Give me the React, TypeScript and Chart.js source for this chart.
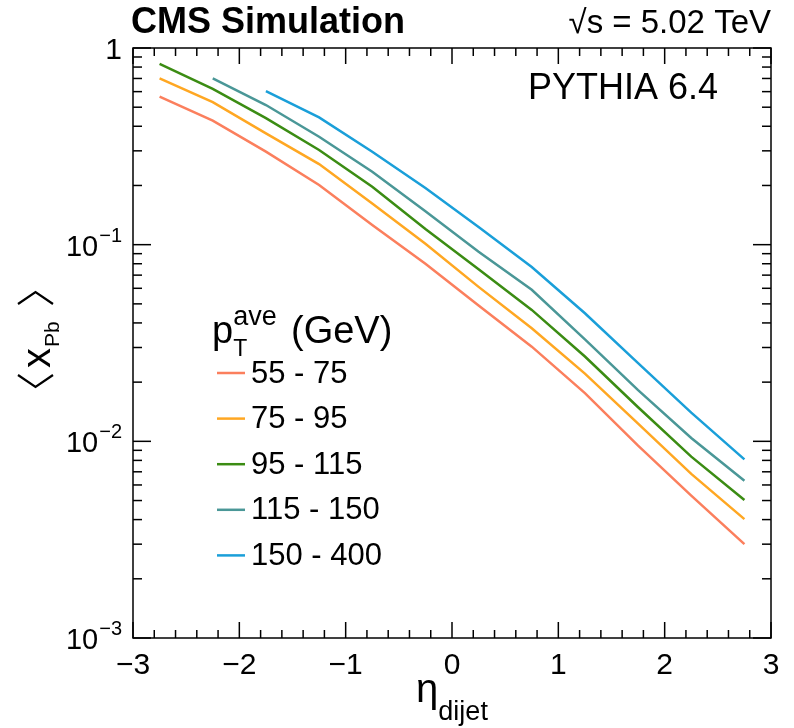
import React, { useEffect, useRef } from "react";
import { Chart, registerables } from "chart.js";

Chart.register(...registerables);

// ---------------- data ----------------
const etaCenters = [-2.75, -2.25, -1.75, -1.25, -0.75, -0.25, 0.25, 0.75, 1.25, 1.75, 2.25, 2.75];
const seriesLabels = ["55 - 75", "75 - 95", "95 - 115", "115 - 150", "150 - 400"];
const xPb_55_75 = [0.566, 0.427, 0.297, 0.201, 0.126, 0.08, 0.049, 0.0303, 0.0176, 0.0095, 0.0053, 0.003];
const xPb_75_95 = [0.7, 0.531, 0.368, 0.257, 0.162, 0.101, 0.061, 0.0376, 0.0221, 0.0123, 0.00683, 0.00402];
const xPb_95_115 = [0.83, 0.619, 0.44, 0.303, 0.197, 0.12, 0.075, 0.0466, 0.027, 0.0149, 0.00836, 0.00503];
const xPb_115_150 = [null, 0.7, 0.513, 0.354, 0.235, 0.148, 0.092, 0.059, 0.033, 0.0182, 0.0104, 0.0063];
const xPb_150_400 = [null, null, 0.604, 0.444, 0.297, 0.194, 0.123, 0.077, 0.0448, 0.025, 0.014, 0.0081];
const xTickValues = [-3, -2, -1, 0, 1, 2, 3];
const yDecades = [-3, -2, -1, 0];

const seriesValues = [xPb_55_75, xPb_75_95, xPb_95_115, xPb_115_150, xPb_150_400];
const seriesColors = ["#fb7f5d", "#ffa722", "#3b8c13", "#4a9797", "#1a9fd9"];

const FONT = "'Liberation Sans', Arial, Helvetica, sans-serif";

function minusStr(n: number) {
  return n < 0 ? "\u2212" + Math.abs(n) : String(n);
}

const overlay = {
  id: "rootOverlay",
  afterDraw(chart: any) {
    const ctx: CanvasRenderingContext2D = chart.ctx;
    const { left, right, top, bottom } = chart.chartArea;
    const xs = chart.scales.x;
    const ys = chart.scales.y;
    ctx.save();
    ctx.strokeStyle = "#000";
    ctx.fillStyle = "#000";
    ctx.lineWidth = 1.5;
    const seg = (x1: number, y1: number, x2: number, y2: number) => {
      ctx.beginPath();
      ctx.moveTo(x1, y1);
      ctx.lineTo(x2, y2);
      ctx.stroke();
    };
    // frame
    ctx.strokeRect(left, top, right - left, bottom - top);
    // x ticks (major every 1, minor every 0.2)
    const xMin = xTickValues[0];
    const xMax = xTickValues[xTickValues.length - 1];
    const nMinor = Math.round((xMax - xMin) / 0.2);
    for (let i = 0; i <= nMinor; i++) {
      const v = xMin + i * 0.2;
      const px = xs.getPixelForValue(v);
      const len = i % 5 === 0 ? 16 : 8;
      seg(px, bottom, px, bottom - len);
      seg(px, top, px, top + len);
    }
    // y ticks
    for (let d = yDecades[0]; d <= yDecades[yDecades.length - 1]; d++) {
      const kMax = d === yDecades[yDecades.length - 1] ? 1 : 9;
      for (let k = 1; k <= kMax; k++) {
        const v = k * Math.pow(10, d);
        const py = ys.getPixelForValue(v);
        const len = k === 1 ? 18 : 9;
        seg(left, py, left + len, py);
        seg(right, py, right - len, py);
      }
    }
    // x tick labels
    ctx.font = `30px ${FONT}`;
    ctx.textAlign = "center";
    ctx.textBaseline = "alphabetic";
    for (const v of xTickValues) {
      ctx.fillText(minusStr(v), xs.getPixelForValue(v), bottom + 36);
    }
    // y tick labels
    const labRight = left - 11;
    for (const d of yDecades) {
      const py = ys.getPixelForValue(Math.pow(10, d));
      if (d === 0) {
        ctx.font = `30px ${FONT}`;
        ctx.textAlign = "right";
        ctx.fillText("1", labRight, py + 11);
      } else {
        ctx.font = `20px ${FONT}`;
        ctx.textAlign = "right";
        const sup = minusStr(d);
        const sw = ctx.measureText(sup).width;
        ctx.fillText(sup, labRight, py - 3);
        ctx.font = `29px ${FONT}`;
        ctx.fillText("10", labRight - sw - 1, py + 11);
      }
    }
    // x title: eta_dijet
    ctx.textAlign = "left";
    ctx.font = `40px ${FONT}`;
    const etaW = ctx.measureText("\u03b7").width;
    ctx.font = `27px ${FONT}`;
    const dijW = ctx.measureText("dijet").width;
    const xTitleStart = (left + right) / 2 - (etaW + dijW) / 2;
    ctx.font = `40px ${FONT}`;
    ctx.fillText("\u03b7", xTitleStart, bottom + 64);
    ctx.font = `27px ${FONT}`;
    ctx.fillText("dijet", xTitleStart + etaW, bottom + 82);

    // y title: < x_Pb > rotated
    ctx.save();
    const yc = (top + bottom) / 2 - 3;
    ctx.translate(50, yc + 48);
    ctx.rotate(-Math.PI / 2);
    ctx.lineWidth = 2.2;
    ctx.beginPath();
    ctx.moveTo(13, -32);
    ctx.lineTo(1, -14.5);
    ctx.lineTo(13, 3);
    ctx.stroke();
    ctx.font = `40px ${FONT}`;
    ctx.textAlign = "left";
    ctx.fillText("x", 20, 0);
    ctx.font = `21px ${FONT}`;
    ctx.fillText("Pb", 41, 9);
    ctx.beginPath();
    ctx.moveTo(84, -32);
    ctx.lineTo(96, -14.5);
    ctx.lineTo(84, 3);
    ctx.stroke();
    ctx.restore();

    // header texts
    ctx.textAlign = "left";
    ctx.font = `bold 36px ${FONT}`;
    ctx.fillText("CMS Simulation", left - 2, 33);
    ctx.textAlign = "right";
    ctx.font = `33px ${FONT}`;
    ctx.fillText("\u221as = 5.02 TeV", right, 33);
    ctx.font = `36px ${FONT}`;
    ctx.fillText("PYTHIA 6.4", right - 53, 99);

    // legend title p_T^ave (GeV)
    ctx.textAlign = "left";
    const lx = 212;
    ctx.font = `38px ${FONT}`;
    ctx.fillText("p", lx, 343);
    const pW = ctx.measureText("p").width;
    ctx.font = `27px ${FONT}`;
    ctx.fillText("ave", lx + pW, 325);
    ctx.font = `23px ${FONT}`;
    ctx.fillText("T", lx + pW, 356);
    ctx.font = `38px ${FONT}`;
    ctx.fillText("(GeV)", 291, 343);

    // legend entries
    ctx.font = `31px ${FONT}`;
    ctx.textBaseline = "middle";
    for (let i = 0; i < seriesLabels.length; i++) {
      const ry = 373 + i * 45.6;
      ctx.strokeStyle = seriesColors[i];
      ctx.lineWidth = 2.5;
      seg(217, ry, 245, ry);
      ctx.fillStyle = "#000";
      ctx.fillText(seriesLabels[i], 251, ry + 1);
    }
    ctx.restore();
  },
};

export default function App() {
  const canvasRef = useRef<HTMLCanvasElement | null>(null);
  useEffect(() => {
    const canvas = canvasRef.current;
    if (!canvas) return;
    const chart = new Chart(canvas, {
      type: "line",
      data: {
        datasets: seriesLabels.map((label, i) => ({
          label,
          data: etaCenters
            .map((x, j) => ({ x, y: seriesValues[i][j] }))
            .filter((p) => p.y !== null) as any,
          borderColor: seriesColors[i],
          backgroundColor: seriesColors[i],
          borderWidth: 2.5,
          pointRadius: 0,
          tension: 0,
          fill: false,
        })),
      },
      options: {
        animation: false,
        responsive: false,
        devicePixelRatio: 1,
        layout: { padding: { left: 133, top: 48, right: 23, bottom: 90 } },
        scales: {
          x: { type: "linear", min: -3, max: 3, display: false },
          y: { type: "logarithmic", min: 0.001, max: 1, display: false },
        },
        plugins: { legend: { display: false }, tooltip: { enabled: false } },
      },
      plugins: [overlay],
    });
    return () => chart.destroy();
  }, []);
  return (
    <div style={{ position: "fixed", left: 0, top: 0, width: 794, height: 728, background: "#fff" }}>
      <canvas ref={canvasRef} width={794} height={728} style={{ width: 794, height: 728, display: "block" }} />
    </div>
  );
}
